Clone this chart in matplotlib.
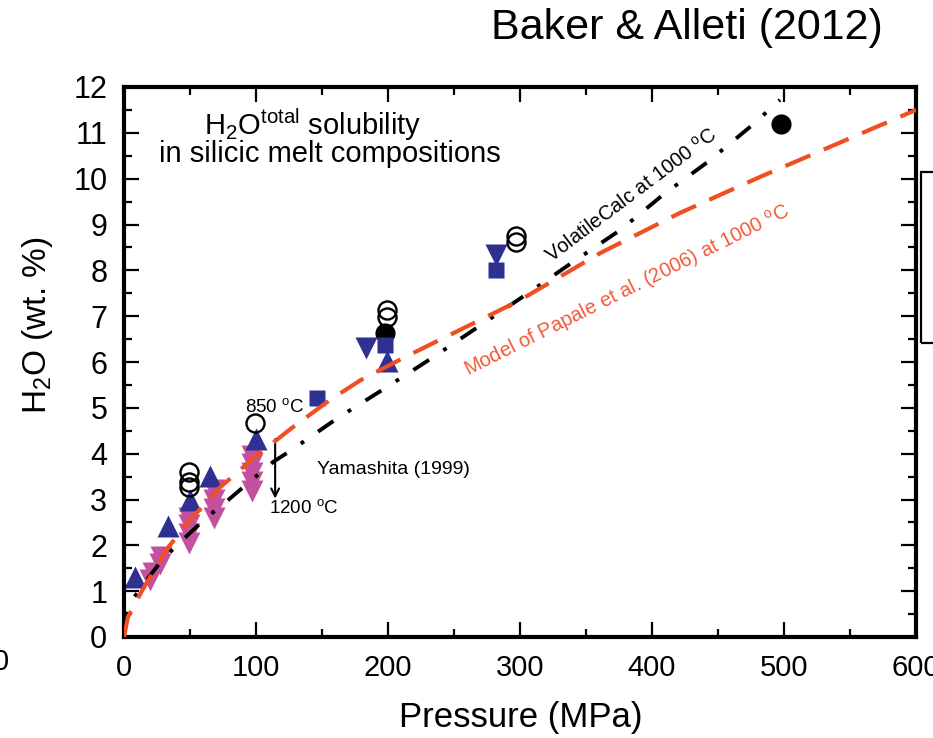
import matplotlib
matplotlib.use("Agg")
import matplotlib.pyplot as plt
from matplotlib.patches import Rectangle
from matplotlib.ticker import MultipleLocator

plt.rcParams['font.family'] = ['Liberation Sans', 'DejaVu Sans']
plt.rcParams['mathtext.fontset'] = 'custom'
plt.rcParams['mathtext.rm'] = 'Liberation Sans'
plt.rcParams['mathtext.it'] = 'Liberation Sans:italic'
plt.rcParams['mathtext.bf'] = 'Liberation Sans:bold'

# ---------------- data ----------------
blue_up_p = [8, 33, 50, 65, 100, 199]
blue_up_h = [1.31, 2.42, 3.0, 3.52, 4.32, 6.02]

blue_down_p = [183, 282]
blue_down_h = [6.3, 8.33]

blue_sq_p = [146, 198, 282]
blue_sq_h = [5.21, 6.38, 8.0]

black_fill_p = [198, 498]
black_fill_h = [6.63, 11.2]

open_circ_p = [49, 49, 49, 99, 199, 199, 297, 297]
open_circ_h = [3.6, 3.38, 3.28, 4.67, 7.13, 6.99, 8.75, 8.62]

pink_p = [20, 22, 27, 28,
          49, 49, 49, 49,
          68, 68, 68, 68,
          97, 97, 97, 97, 97]
pink_h = [1.25, 1.4, 1.6, 1.75,
          2.05, 2.25, 2.45, 2.6,
          2.6, 2.8, 3.0, 3.2,
          3.18, 3.38, 3.58, 3.78, 3.95]

volcalc_p = [0, 4.5, 17, 30, 46, 61, 79, 94, 113, 127, 162, 199, 234, 270,
             305, 340, 376, 408, 442, 476, 497]
volcalc_h = [0.15, 0.74, 1.24, 1.72, 2.16, 2.57, 2.99, 3.36, 3.82, 4.08, 4.78,
             5.45, 6.1, 6.8, 7.48, 8.18, 8.88, 9.64, 10.36, 11.17, 11.72]

papale_p = [0, 3, 14, 33, 50, 73, 98, 128, 156, 179, 211, 239, 270, 300,
            361, 421, 482, 600]
papale_h = [0.0, 0.44, 1.03, 1.94, 2.55, 3.27, 3.9, 4.58, 5.17, 5.6, 6.08,
            6.48, 6.92, 7.35, 8.38, 9.25, 10.04, 11.5]

# ---------------- figure ----------------
W, H = 933, 738
fig = plt.figure(figsize=(W / 100, H / 100), dpi=100)
ax = fig.add_axes([124 / W, 1 - 637 / H, 792 / W, 550 / H])

blue = '#2e3192'
pink = '#c4519f'
red = '#f04e23'

ax.plot(pink_p, pink_h, 'v', color=pink, ms=16.5, mec='none', zorder=2)
ax.plot(black_fill_p, black_fill_h, 'o', color='black', ms=14.5, mec='none', zorder=2.1)
ax.plot(blue_up_p, blue_up_h, '^', color=blue, ms=16.5, mec='none', zorder=2.2)
ax.plot(blue_down_p, blue_down_h, 'v', color=blue, ms=16.5, mec='none', zorder=2.2)
ax.plot(blue_sq_p, blue_sq_h, 's', color=blue, ms=12, mec='none', zorder=2.3)
ax.plot(open_circ_p, open_circ_h, 'o', mfc='none', mec='black', mew=1.7, ms=13, zorder=2.4)

ax.plot(volcalc_p, volcalc_h, color='black', lw=2.8,
        linestyle=(0, (4.8, 4.4, 1.0, 4.4)), zorder=3)
ax.plot(papale_p, papale_h, color=red, lw=3, linestyle=(0, (6.5, 3.5)), zorder=3.1)

ax.set_xlim(0, 600)
ax.set_ylim(0, 12)
ax.xaxis.set_major_locator(MultipleLocator(100))
ax.xaxis.set_minor_locator(MultipleLocator(50))
ax.yaxis.set_major_locator(MultipleLocator(1))
ax.yaxis.set_minor_locator(MultipleLocator(0.5))
ax.tick_params(which='both', direction='in', top=True, right=True, width=1.6)
ax.tick_params(which='major', length=11)
ax.tick_params(which='minor', length=6)
ax.tick_params(axis='y', labelsize=22, pad=12)
ax.tick_params(axis='x', labelsize=21, pad=12)
for s in ax.spines.values():
    s.set_linewidth(3)

# labels
fig.text(521 / W, 1 - 718 / H, 'Pressure (MPa)', fontsize=25, ha='center', va='center')
fig.text(38 / W, 1 - 325 / H, r'H$_2$O (wt. %)', fontsize=24, rotation=90,
         ha='center', va='center')
fig.text(687 / W, 1 - 28 / H, 'Baker & Alleti (2012)', fontsize=31,
         ha='center', va='center')

fig.text(313 / W, 1 - 135 / H, r'H$_2$O$^{\mathrm{total}}$ solubility', fontsize=21,
         ha='center', va='baseline')
fig.text(330 / W, 1 - 162 / H, 'in silicic melt compositions', fontsize=21,
         ha='center', va='baseline')

fig.text(275 / W, 1 - 412 / H, r'850 $^{\mathrm{o}}$C', fontsize=13.5,
         ha='center', va='baseline')
fig.text(304 / W, 1 - 513 / H, r'1200 $^{\mathrm{o}}$C', fontsize=13.5,
         ha='center', va='baseline')
fig.text(393 / W, 1 - 470 / H, 'Yamashita (1999)', fontsize=14,
         ha='center', va='center')

ax.annotate('', xy=(114.5, 3.02), xytext=(114.5, 4.32),
            arrowprops=dict(arrowstyle='->', color='black', lw=1.5,
                            mutation_scale=14, shrinkA=0, shrinkB=0))

fig.text(631 / W, 1 - 196 / H, r'VolatileCalc at 1000 $^{\mathrm{o}}$C', fontsize=14.5,
         rotation=37, rotation_mode='anchor', ha='center', va='center')
fig.text(627 / W, 1 - 291 / H, r'Model of Papale et al. (2006) at 1000 $^{\mathrm{o}}$C',
         fontsize=14.5, color='#f15a3a', rotation=26.5, rotation_mode='anchor',
         ha='center', va='center')

# fragments cut off at figure edges (as in the reference crop)
fig.patches.append(Rectangle((921 / W, 1 - 343 / H), 0.1, 171 / H, fill=False,
                             lw=1.6, edgecolor='black', transform=fig.transFigure,
                             figure=fig))
fig.text(9 / W, 1 - 662 / H, '0', fontsize=21, ha='right', va='center')

fig.savefig('out.png', dpi=100)
